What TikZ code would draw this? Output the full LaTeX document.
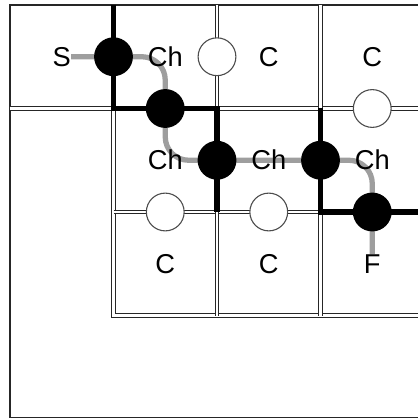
\documentclass[tikz,border=0pt]{standalone}
\usepackage{fontspec}
\setmainfont{Liberation Sans}
\usetikzlibrary{positioning,backgrounds}

\begin{document}
\begin{tikzpicture}[x=2cm,y=-2cm]
	\useasboundingbox (-0.0966,-0.0483) rectangle (3.942,3.981);
	\begin{scope}[
		node distance=2cm,on grid,
		grid/.style={draw=black!85,double,double distance=1.2pt,line width=0.75pt},
		wall/.style={draw=black,line width=2.8pt},
		chain/.style={draw=black!38,line width=2.9pt,rounded corners=0.45cm},
		site/.style={font=\fontsize{15}{17}\selectfont,inner sep=0pt},
		full/.style={circle,fill=black,minimum size=0.75cm,inner sep=0pt},
		empty/.style={circle,draw=black!70,fill=white,line width=0.6pt,minimum size=0.73cm,inner sep=0pt}]
		\draw [line width=1.1pt,black!85] (4.2,0) -- (0,0) -- (0,3.992) -- (4.2,3.992);
		\draw [grid]	(0,1) -- (1,1);
		\draw [grid]	(2,1) -- (4.2,1);
		\draw [grid]	(2,0) -- (2,1);
		\draw [grid]	(3,0) -- (3,1);
		\draw [grid]	(1,1) -- (1,3) -- (4.2,3);
		\draw [grid]	(1,2) -- (3,2);
		\draw [grid]	(2,2) -- (2,3);
		\draw [grid]	(3,2) -- (3,3);
		\draw [wall]	(1,0) -- (1,1) -- (2,1) -- (2,2);
		\draw [wall]	(3,1) -- (3,2) -- (4.2,2);
		\node [site]	(S)		at (0.5,0.5)		{S};
		\node [site]	(Ch1)	[right=of S]		{Ch};
		\node [site]	(C1)	[right=of Ch1]	{C};
		\node [site]	(C2)	[right=of C1]		{C};
		\node [site]	(Ch2)	[below=of Ch1]	{Ch};
		\node [site]	(Ch3)	[right=of Ch2]	{Ch};
		\node [site]	(Ch4)	[right=of Ch3]	{Ch};
		\node [site]	(C3)	[below=of Ch2]	{C};
		\node [site]	(C4)	[right=of C3]		{C};
		\node [site]	(F)		[below=of Ch4]	{F};
		\node [full]	(B1)	[right=1cm of S]	{};
		\node [empty]	(W1)	[right=1cm of Ch1]	{};
		\node [full]	(B2)	[below=1cm of Ch1]	{};
		\node [empty]	(W2)	[below=1cm of C2]	{};
		\node [full]	(B3)	[left=1cm of Ch3]	{};
		\node [full]	(B4)	[right=1cm of Ch3]	{};
		\node [empty]	(W3)	[above=1cm of C3]	{};
		\node [empty]	(W4)	[above=1cm of C4]	{};
		\node [full]	(B5)	[above=1cm of F]	{};
		\begin{scope}[on background layer]
			\draw [chain] (S.east) -- (Ch1.center) -- (Ch2.center) -- (Ch4.center) -- (F.north);
		\end{scope}
	\end{scope}
\end{tikzpicture}
\end{document}
